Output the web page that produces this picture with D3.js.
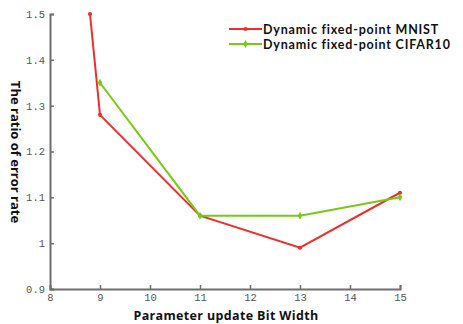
<!DOCTYPE html>
<html><head><meta charset="utf-8">
<script src="https://cdn.jsdelivr.net/npm/d3@7"></script>
<style>body{margin:0;background:#fff;}</style>
</head><body>
<script>
const mnistX = [8.8, 9, 11, 13, 15];
const mnistY = [1.5, 1.28, 1.06, 0.99, 1.11];
const cifarX = [9, 11, 13, 15];
const cifarY = [1.35, 1.06, 1.06, 1.1];
const xTicks = [8, 9, 10, 11, 12, 13, 14, 15];
const yTicks = [0.9, 1, 1.1, 1.2, 1.3, 1.4, 1.5];
const seriesNames = ["Dynamic fixed-point MNIST", "Dynamic fixed-point CIFAR10"];
const colors = ["#ec2f2a", "#77c817"];

const W = 463, H = 324;
const svg = d3.select("body").append("svg").attr("width", W).attr("height", H);
const x = d3.scaleLinear().domain([8, 15]).range([50, 400]);
const y = d3.scaleLinear().domain([0.9, 1.5]).range([289, 14]);

const tickFont = "'Liberation Mono', monospace";
const gx = svg.append("g").attr("transform", "translate(0,289)")
  .call(d3.axisBottom(x).tickValues(xTicks).tickSize(-4).tickPadding(5).tickFormat(d3.format("d")));
const gy = svg.append("g").attr("transform", "translate(50,0)")
  .call(d3.axisLeft(y).tickValues(yTicks).tickSize(-4).tickPadding(5).tickFormat(d => d === 1 ? "1" : d3.format(".1f")(d)));
[gx, gy].forEach(g => {
  g.selectAll("path.domain").attr("stroke", "#6e6e6e").attr("stroke-width", 2);
  g.selectAll(".tick line").attr("stroke", "#6e6e6e").attr("stroke-width", 1.5);
  g.selectAll(".tick text").attr("fill", "#555").style("font-family", tickFont).style("font-size", "10.5px");
});

const line = d3.line().x(d => x(d[0])).y(d => y(d[1]));
const data = [d3.zip(mnistX, mnistY), d3.zip(cifarX, cifarY)];
data.forEach((pts, i) => {
  svg.append("path").datum(pts).attr("d", line).attr("fill", "none")
    .attr("stroke", colors[i]).attr("stroke-width", 2);
  svg.selectAll(null).data(pts).enter().append("path")
    .attr("transform", d => `translate(${x(d[0])},${y(d[1])})`)
    .attr("d", d3.symbol().type(i === 0 ? d3.symbolCircle : d3.symbolDiamond).size(i === 0 ? 14 : 18)())
    .attr("fill", colors[i]);
});

// legend
const lg = svg.append("g");
seriesNames.forEach((n, i) => {
  const yy = 29 + i * 15;
  lg.append("line").attr("x1", 229).attr("x2", 262).attr("y1", yy).attr("y2", yy)
    .attr("stroke", colors[i]).attr("stroke-width", 2);
  lg.append("path").attr("transform", `translate(245.5,${yy})`)
    .attr("d", d3.symbol().type(i === 0 ? d3.symbolCircle : d3.symbolDiamond).size(i === 0 ? 14 : 18)())
    .attr("fill", colors[i]);
  lg.append("text").attr("x", 263).attr("y", yy + 4.5).text(n)
    .style("font-family", "Lato, sans-serif").style("font-weight", "bold")
    .style("font-size", "12.5px").style("letter-spacing", "0.8px").attr("fill", "#111");
});

svg.append("text").attr("x", 226).attr("y", 320).attr("text-anchor", "middle")
  .text("Parameter update Bit Width")
  .style("font-family", "'Open Sans', sans-serif").style("font-weight", "bold").style("font-size", "12.5px")
  .style("letter-spacing", "0.35px").attr("fill", "#111");
svg.append("text").attr("transform", "translate(11,152) rotate(90)").attr("text-anchor", "middle")
  .text("The ratio of error rate")
  .style("font-family", "'Open Sans', sans-serif").style("font-weight", "bold").style("font-size", "13px").attr("fill", "#111");
</script>
</body></html>
